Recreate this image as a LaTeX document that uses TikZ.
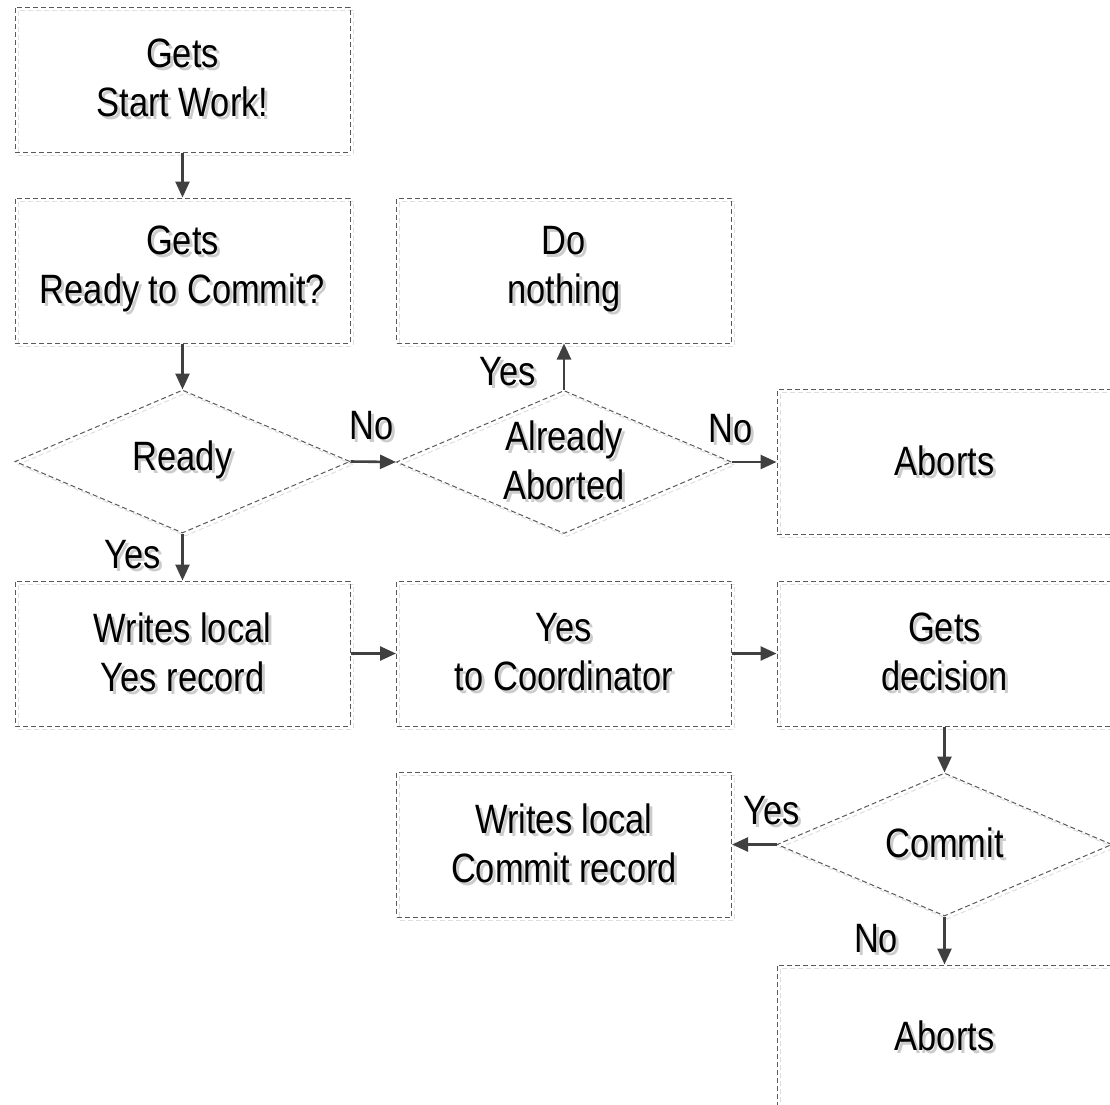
\documentclass[tikz,border=0pt]{standalone}
\usepackage{fontspec}
\setmainfont{Liberation Sans}[FakeStretch=0.84]
\usetikzlibrary{shapes.geometric,arrows.meta}

% text with a soft grey drop shadow
\newcommand\sh[1]{\rlap{\kern3pt\raisebox{-3pt}{\color{black!20}#1}}#1}

\tikzset{
  every node/.style={font=\fontsize{41}{49}\selectfont},
  dropshadow/.style={preaction={draw=black!13,dashed,dash pattern=on 5pt off 3pt,line width=1pt,
      transform canvas={shift={(3pt,-3pt)}}}},
  stepbox/.style={rectangle,draw=black!65,dash pattern=on 5pt off 3pt,line width=1pt,
      minimum width=335pt,minimum height=145pt,inner sep=0pt,align=center,dropshadow},
  decision/.style={diamond,draw=black!65,dash pattern=on 5pt off 3pt,line width=1pt,
      minimum width=335pt,minimum height=143pt,inner sep=0pt,dropshadow},
  flow/.style={draw=black!75,line width=2.6pt,-{Triangle[length=16pt,width=14pt]}},
  tag/.style={inner sep=0pt}
}

\begin{document}
\begin{tikzpicture}[x=1pt,y=-1pt]
\useasboundingbox (0,0) rectangle (1110,1104);

% left column
\node[stepbox] (start) at (182.5,79.5) {\sh{Gets}\\\sh{Start Work!}};
\node[stepbox] (getsready) at (182.5,270.5) {\sh{Gets}\\\sh{Ready to Commit?}};
\node[decision,label={[align=center]center:\sh{Ready}}] (ready) at (182.5,461.5) {};
\node[stepbox] (writeyes) at (182.5,653.5) {\sh{Writes local}\\\sh{Yes record}};

% middle column
\node[stepbox] (nothing) at (564,270.5) {\sh{Do}\\\sh{nothing}};
\node[decision,label={[align=center]center:{\sh{Already}\\\sh{Aborted}}}] (already) at (564,462) {};
\node[stepbox] (yescoord) at (564,653.5) {\sh{Yes}\\\sh{to Coordinator}};
\node[stepbox] (writecommit) at (564,844.5) {\sh{Writes local}\\\sh{Commit record}};

% right column
\node[stepbox] (abort1) at (944.5,462) {\sh{Aborts}};
\node[stepbox] (decision) at (944.5,653.5) {\sh{Gets}\\\sh{decision}};
\node[decision,label={[align=center]center:\sh{Commit}}] (commit) at (944.5,844.5) {};
\node[stepbox] (abort2) at (944.5,1037.5) {\sh{Aborts}};

% connectors
\draw[flow] (start) -- (getsready);
\draw[flow] (getsready) -- (ready.north);
\draw[flow] (ready.east) -- (already.west);
\draw[flow] (already.north) -- (nothing.south);
\draw[flow] (already.east) -- (abort1.west);
\draw[flow] (ready.south) -- (writeyes.north);
\draw[flow] (writeyes.east) -- (yescoord.west);
\draw[flow] (yescoord.east) -- (decision.west);
\draw[flow] (decision.south) -- (commit.north);
\draw[flow] (commit.west) -- (writecommit.east);
\draw[flow] (commit.south) -- (abort2.north);

% branch labels
\node[tag] (l1) at (372,427) {\sh{No}};
\node[tag] (l2) at (508,373) {\sh{Yes}};
\node[tag] (l3) at (731,430) {\sh{No}};
\node[tag] (l4) at (133,556) {\sh{Yes}};
\node[tag] (l5) at (772,812) {\sh{Yes}};
\node[tag] (l6) at (876,940) {\sh{No}};
\end{tikzpicture}
\end{document}
